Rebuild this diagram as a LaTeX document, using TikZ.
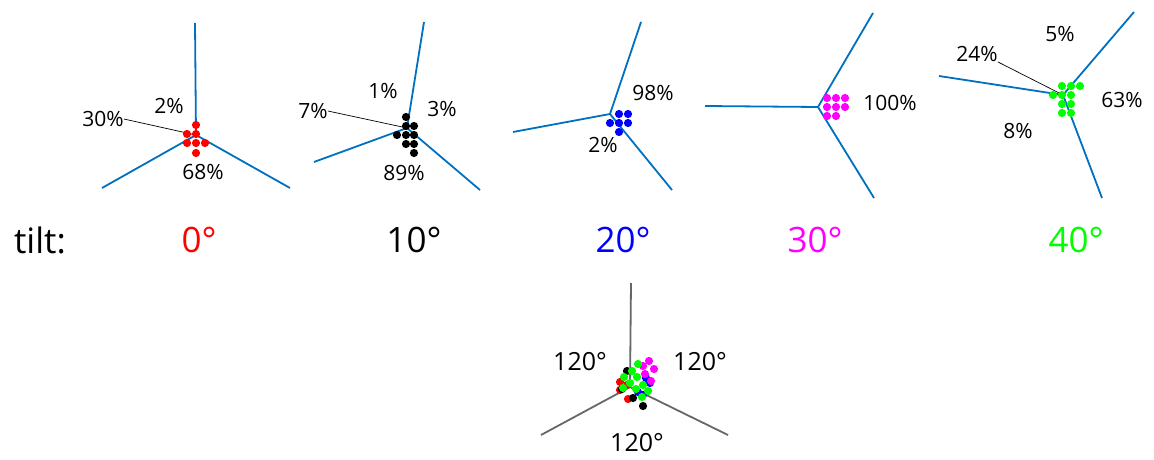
\documentclass[tikz,border=0pt]{standalone}
\usepackage{fontspec}
\setmainfont{Open Sans}
\usepackage{xcolor}
\usetikzlibrary{positioning}
\definecolor{armblue}{RGB}{0,112,192}
\definecolor{armgray}{RGB}{100,104,106}
\definecolor{dotmagenta}{RGB}{255,0,255}

\begin{document}
\begin{tikzpicture}[x=1pt, y=-1pt,
  arm/.style={armblue, line width=1.8pt},
  grayarm/.style={armgray, line width=1.8pt},
  leader/.style={black, line width=0.7pt},
  pct/.style={inner sep=0pt, font=\fontsize{21}{21}\selectfont},
  anglbl/.style={inner sep=0pt, font=\fontsize{25}{25}\selectfont},
  tiltlbl/.style={inner sep=0pt, font=\fontsize{35}{35}\selectfont}]
  \useasboundingbox (0,0) rectangle (1154,460);

  % Tilt 0
  \coordinate (j0) at (196,135);
  \coordinate (t0) at (195,23);
  \coordinate (l0) at (102,188);
  \coordinate (r0) at (290,188);
  \draw[arm] (t0) -- (j0);
  \draw[arm] (l0) -- (j0) -- (r0);
  \node[pct] (p0a) at (169,106) {2\%};
  \node[pct] (p0b) at (103,119) {30\%};
  \node[pct] (p0c) at (203,172) {68\%};
  \draw[leader] (p0b.east) -- (j0);
  \foreach \p in {(196,125),(187,134),(196,134),(187,143),(196,143),(205,143),(196,153)}
    \fill[red] \p circle[radius=4.1pt];

  % Tilt 10
  \coordinate (j1) at (407,128);
  \coordinate (t1) at (424,22);
  \coordinate (l1) at (314,162);
  \coordinate (r1) at (480,190);
  \draw[arm] (t1) -- (j1);
  \draw[arm] (l1) -- (j1) -- (r1);
  \node[pct] (p1a) at (383,91) {1\%};
  \node[pct] (p1b) at (442,109) {3\%};
  \node[pct] (p1c) at (313,111) {7\%};
  \node[pct] (p1d) at (404,173) {89\%};
  \draw[leader] (p1c.east) -- (j1);
  \foreach \p in {(406,117),(406,126),(414,126),(397,135),(406,135),(414,135),(406,144),(414,144),(414,153)}
    \fill[black] \p circle[radius=4.1pt];

  % Tilt 20
  \coordinate (j2) at (610,114);
  \coordinate (t2) at (641,22);
  \coordinate (l2) at (513,132);
  \coordinate (r2) at (672,190);
  \draw[arm] (t2) -- (j2);
  \draw[arm] (l2) -- (j2) -- (r2);
  \node[pct] (p2a) at (653,93) {98\%};
  \node[pct] (p2b) at (603,145) {2\%};
  \foreach \p in {(619,114),(628,114),(610,123),(619,123),(628,123),(619,132)}
    \fill[blue] \p circle[radius=4.1pt];

  % Tilt 30
  \coordinate (j3) at (818,107);
  \coordinate (t3) at (873,13);
  \coordinate (l3) at (705,106);
  \coordinate (r3) at (874,198);
  \draw[arm] (l3) -- (j3);
  \draw[arm] (t3) -- (j3) -- (r3);
  \node[pct] (p3a) at (890,103) {100\%};
  \foreach \p in {(827,98),(836,98),(845,98),(827,107),(836,107),(845,107),(827,116),(836,116)}
    \fill[dotmagenta] \p circle[radius=4.1pt];

  % Tilt 40
  \coordinate (j4) at (1063,95);
  \coordinate (t4) at (1134,12);
  \coordinate (l4) at (939,76);
  \coordinate (r4) at (1102,198);
  \draw[arm] (l4) -- (j4);
  \draw[arm] (t4) -- (j4) -- (r4);
  \node[pct] (p4a) at (1060,34) {5\%};
  \node[pct] (p4b) at (977,54) {24\%};
  \node[pct] (p4c) at (1122,100) {63\%};
  \node[pct] (p4d) at (1018,131) {8\%};
  \draw[leader] (p4b.south east) -- (j4);
  \foreach \p in {(1062,86),(1071,86),(1080,86),(1053,95),(1062,95),(1071,95),(1062,104),(1071,104),(1062,113),(1071,113)}
    \fill[green] \p circle[radius=4.1pt];

  % Tilt row
  \node[tiltlbl] (tilt) at (40,240) {tilt:};
  \node[tiltlbl, text=red] (a0) at (199,240) {0°};
  \node[tiltlbl] (a1) at (414,240) {10°};
  \node[tiltlbl, text=blue] (a2) at (623,240) {20°};
  \node[tiltlbl, text=dotmagenta] (a3) at (815,240) {30°};
  \node[tiltlbl, text=green] (a4) at (1076,240) {40°};

  % Overlay
  \coordinate (jo) at (630,387);
  \coordinate (to) at (631,283);
  \coordinate (lo) at (541,435);
  \coordinate (ro) at (728,435);
  \draw[grayarm] (to) -- (jo);
  \draw[grayarm] (lo) -- (jo) -- (ro);
  \node[anglbl] (g1) at (580,362) {120°};
  \node[anglbl] (g2) at (700,362) {120°};
  \node[anglbl] (g3) at (637,443) {120°};
  \foreach \p in {(620,382),(620,390),(628,399),(627,385)}
    \fill[red] \p circle[radius=4.1pt];
  \foreach \p in {(627,371),(633,398),(643,406),(622,389)}
    \fill[black] \p circle[radius=4.1pt];
  \foreach \p in {(650,383),(643,395),(646,378),(638,392)}
    \fill[blue] \p circle[radius=4.1pt];
  \foreach \p in {(649,361),(654,369),(645,374),(651,381),(643,366)}
    \fill[dotmagenta] \p circle[radius=4.1pt];
  \foreach \p in {(638,364),(632,371),(624,377),(637,377),(630,383),(643,385),(623,388),(636,389),(648,391),(642,397)}
    \fill[green] \p circle[radius=4.1pt];
\end{tikzpicture}
\end{document}
